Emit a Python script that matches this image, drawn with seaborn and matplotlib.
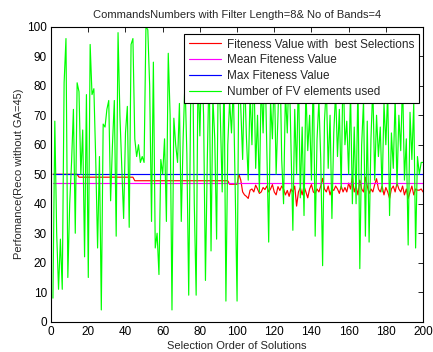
import matplotlib
matplotlib.use("Agg")
import matplotlib.pyplot as plt
import numpy as np
import pandas as pd
import seaborn as sns

TITLE = "CommandsNumbers with Filter Length=8& No of Bands=4"
X_LABEL = "Selection Order of Solutions"
Y_LABEL = "Perfomance(Reco without GA=45)"
LABELS = [
    "Fiteness Value with  best Selections",
    "Mean Fiteness Value",
    "Max Fiteness Value",
    "Number of FV elements used",
]

x_values = list(range(1, 201))

best_fitness = (
    [50] * 14 + [49] * 30 + [47.8] * 51 + [46.6] * 5 + [50]
    + [48, 44, 43, 42.5, 41.8, 44.6, 45, 44, 46.3, 45, 43.5,
       44, 45.5, 44.8, 46, 44, 45, 46.5, 44, 43, 45.8, 44.5,
       46, 45, 43, 44.5, 42.5, 45, 44, 46, 39.2, 44, 45.5,
       43, 46, 44, 42, 45, 46.5, 44, 43.5, 45, 44, 46,
       48.6, 45, 44, 46, 43, 45, 44.5, 46, 45, 43.5, 46,
       44, 45.5, 44, 47, 45, 49.2, 44, 46, 43, 48, 45,
       44, 49, 46, 43.5, 45, 44, 46.5, 48.5, 45, 44, 46,
       43, 45.5, 44, 41.8, 45, 46, 44, 47, 45, 44, 46,
       43, 45, 41.8, 44, 46, 43, 45, 44.6, 44.6, 45, 44]
)
mean_fitness = [47] * 200
max_fitness = [50] * 200
fv_elements = [
    8, 68, 30, 11, 28, 11, 81, 96, 15, 40, 54, 72, 30, 81, 78, 50, 65, 22, 77, 15,
    94, 77, 79, 55, 25, 56, 4, 67, 66, 72, 75, 41, 60, 75, 29, 98, 70, 52, 35, 64,
    73, 32, 94, 96, 62, 56, 60, 54, 56, 54, 100, 99, 80, 34, 88, 25, 30, 16, 55, 50,
    62, 34, 91, 70, 4, 69, 60, 54, 74, 34, 62, 82, 57, 9, 72, 97, 40, 9, 85, 63,
    90, 70, 14, 55, 88, 24, 76, 62, 28, 92, 70, 44, 85, 7, 60, 75, 64, 80, 45, 7,
    90, 72, 55, 85, 63, 48, 78, 60, 88, 52, 70, 44, 82, 64, 90, 58, 27, 75, 62, 85,
    50, 70, 92, 55, 40, 78, 64, 88, 60, 31, 72, 50, 85, 42, 66, 36, 80, 58, 70, 48,
    86, 29, 62, 75, 55, 19, 68, 80, 52, 70, 35, 64, 78, 56, 72, 45, 88, 60, 68, 50,
    78, 40, 66, 40, 82, 18, 60, 75, 29, 68, 27, 62, 80, 48, 70, 56, 66, 44, 74, 60,
    78, 36, 64, 52, 76, 46, 70, 58, 82, 48, 62, 26, 71, 55, 74, 25, 56, 50, 54, 54,
]

COLORS = ["#ff0000", "#ff00ff", "#0000ff", "#00ff00"]

df = pd.concat(
    [
        pd.DataFrame({"order": x_values, "value": vals, "series": name})
        for name, vals in zip(LABELS, [best_fitness, mean_fitness, max_fitness, fv_elements])
    ],
    ignore_index=True,
)

sns.set_style("white")
plt.rcParams["font.family"] = ["Liberation Sans", "DejaVu Sans"]

fig = plt.figure(figsize=(4.33, 3.52), dpi=100)
ax = fig.add_axes([0.118, 0.086, 0.859, 0.838])

sns.lineplot(
    data=df, x="order", y="value", hue="series", hue_order=LABELS,
    palette=COLORS, linewidth=0.85, ax=ax, legend=True, estimator=None, sort=False,
)

ax.set_xlim(0, 200)
ax.set_ylim(0, 100)
ax.set_xticks(np.arange(0, 201, 20))
ax.set_yticks(np.arange(0, 101, 10))
ax.tick_params(direction="in", top=True, right=True, length=3.5, width=0.6,
               labelsize=8.5, pad=3, colors="black")
for spine in ax.spines.values():
    spine.set_color("black")
    spine.set_linewidth(0.8)

ax.set_title(TITLE, fontsize=8, pad=6)
ax.set_xlabel(X_LABEL, fontsize=8, labelpad=2)
ax.set_ylabel(Y_LABEL, fontsize=8, labelpad=2)

handles, labels = ax.get_legend_handles_labels()
leg = ax.legend(
    handles, labels, loc="upper right", bbox_to_anchor=(0.998, 0.988),
    fontsize=8.5, frameon=True, fancybox=False, framealpha=1, edgecolor="black",
    handlelength=2.7, labelspacing=0.32, borderpad=0.4, handletextpad=0.5,
    borderaxespad=0.3,
)
leg.get_frame().set_linewidth(0.8)
leg.set_zorder(5)

fig.savefig("out.png", dpi=100)
plt.close(fig)
